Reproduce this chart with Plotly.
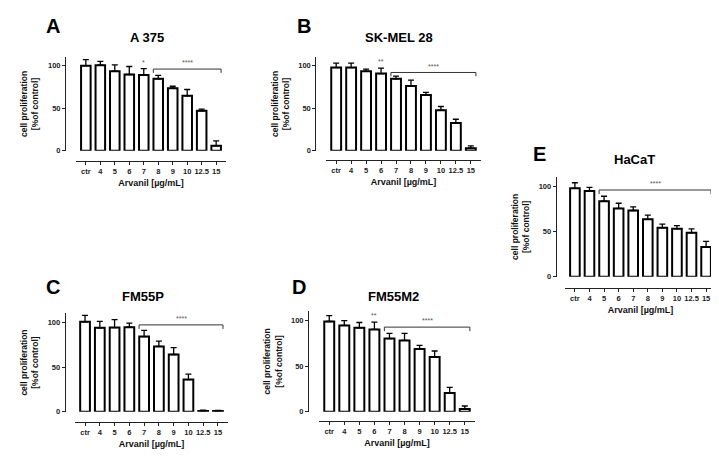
import plotly.graph_objects as go

W, H = 719, 460

doses = ["ctr", "4", "5", "6", "7", "8", "9", "10", "12.5", "15"]

# mean proliferation (% of control) and upper SD per cell line
a375_mean = [100, 100.5, 93.5, 89.6, 89, 84.6, 73.5, 64.6, 47, 5.8]
a375_sd = [7, 4.5, 7.5, 9.4, 7.5, 3.9, 2.3, 7.4, 2, 5.7]

skmel28_mean = [97.7, 97.7, 93.4, 90.7, 84.5, 76, 65.5, 47.7, 32.6, 3]
skmel28_sd = [5.3, 5.3, 2.6, 6.3, 3.1, 7, 3.1, 4.3, 4.4, 2.8]

fm55p_mean = [100.4, 93.8, 94, 94.5, 84, 73, 64, 36, 1, 1]
fm55p_sd = [7.3, 7.2, 9, 4.5, 7, 6, 7.7, 6, 1, 0.5]

fm55m2_mean = [98.6, 94.3, 91.8, 90, 80, 78, 68.6, 60, 20.7, 3]
fm55m2_sd = [6.4, 5.3, 5.7, 8, 5.7, 7.7, 3.9, 6.4, 6.1, 3.4]

hacat_mean = [97.5, 94.5, 83.3, 75.3, 73, 63.3, 54, 53, 48.4, 32.7]
hacat_sd = [6.1, 4, 5.4, 5.7, 4, 4.7, 4, 3.4, 4.3, 6.3]

# significance: bracket (first dose idx, last dose idx, level, label), single marks (idx, label)
a375_bracket = (5, 9, 96, "****")
a375_marks = [(4, "*")]
skmel28_bracket = (4, 9, 92, "****")
skmel28_marks = [(3, "**")]
fm55p_bracket = (4, 9, 97, "****")
fm55p_marks = []
fm55m2_bracket = (4, 9, 92.5, "****")
fm55m2_marks = [(3, "**")]
hacat_bracket = (2, 9, 95.6, "****")
hacat_marks = []

FONT = "Liberation Sans, Arial, sans-serif"


def px(x):
    return x / W


def py(y):
    return 1 - y / H


# panel geometry in pixels
panels = [
    dict(letter="A", title="A 375", mean=a375_mean, sd=a375_sd, br=a375_bracket, marks=a375_marks,
         xd=(68, 218), yx=57, ytop=49.7, ybot=144.3, xy=154.5, lt=(45, 18.5), tt=(138.5, 30)),
    dict(letter="B", title="SK-MEL 28", mean=skmel28_mean, sd=skmel28_sd, br=skmel28_bracket, marks=skmel28_marks,
         xd=(318, 473), yx=307.3, ytop=49.7, ybot=144.3, xy=154, lt=(296, 18), tt=(391, 30)),
    dict(letter="C", title="FM55P", mean=fm55p_mean, sd=fm55p_sd, br=fm55p_bracket, marks=fm55p_marks,
         xd=(67, 220), yx=56.7, ytop=308.6, ybot=408.3, xy=419, lt=(45, 282), tt=(135, 292)),
    dict(letter="D", title="FM55M2", mean=fm55m2_mean, sd=fm55m2_sd, br=fm55m2_bracket, marks=fm55m2_marks,
         xd=(311, 467), yx=300, ytop=306.4, ybot=408.3, xy=417.5, lt=(291, 282), tt=(385, 292)),
    dict(letter="E", title="HaCaT", mean=hacat_mean, sd=hacat_sd, br=hacat_bracket, marks=hacat_marks,
         xd=(557, 708), yx=547.7, ytop=170.8, ybot=271.7, xy=283, lt=(531, 148), tt=(626.7, 153)),
]

fig = go.Figure()
shapes = []
annotations = []
layout = {}

for i, p in enumerate(panels, start=1):
    xa = "x" if i == 1 else "x%d" % i
    ya = "y" if i == 1 else "y%d" % i
    fig.add_trace(go.Bar(
        x=doses, y=p["mean"], xaxis=xa, yaxis=ya, width=0.66,
        marker=dict(color="white", line=dict(color="black", width=2)),
        error_y=dict(type="data", symmetric=False, array=p["sd"], arrayminus=[0] * len(p["sd"]),
                     color="black", thickness=1.3, width=3),
        showlegend=False,
    ))
    layout["xaxis" if i == 1 else "xaxis%d" % i] = dict(
        domain=[px(p["xd"][0]), px(p["xd"][1])], anchor="free", position=py(p["xy"]),
        type="category", range=[-0.68, 9.68], showline=True, linecolor="#222", linewidth=1,
        ticks="outside", ticklen=3, tickwidth=1, tickcolor="#222", showgrid=False,
        tickangle=0,
        tickfont=dict(family=FONT, size=7.5, color="#222", weight="bold"),
        title=dict(text="Arvanil [µg/mL]", standoff=4,
                   font=dict(family=FONT, size=9, color="#111", weight="bold")),
    )
    layout["yaxis" if i == 1 else "yaxis%d" % i] = dict(
        domain=[py(p["ybot"]), py(p["ytop"])], anchor="free", position=px(p["yx"]),
        range=[0, 110], tickvals=[0, 50, 100], showline=True, linecolor="#222", linewidth=1,
        ticks="outside", ticklen=3, tickwidth=1, tickcolor="#222", showgrid=False, zeroline=False,
        tickfont=dict(family=FONT, size=7.5, color="#222", weight="bold"),
        title=dict(text="cell proliferation<br>[%of control]", standoff=6,
                   font=dict(family=FONT, size=8.5, color="#111", weight="bold")),
    )

    # significance bracket
    s, e, lev, lab = p["br"]
    x0, x1 = s - 0.34, e + 0.34
    for seg in [(x0, lev - 4.5, x0, lev), (x0, lev, x1, lev), (x1, lev, x1, lev - 4.5)]:
        shapes.append(dict(type="line", xref=xa, yref=ya, x0=seg[0], y0=seg[1], x1=seg[2], y1=seg[3],
                           line=dict(color="#333", width=1)))
    annotations.append(dict(xref=xa, yref=ya, x=(x0 + x1) / 2, y=lev + 1, text=lab, showarrow=False,
                            yanchor="bottom", font=dict(family=FONT, size=7, color="#555")))
    for idx, lab in p["marks"]:
        annotations.append(dict(xref=xa, yref=ya, x=idx, y=p["mean"][idx] + p["sd"][idx] + 1, text=lab,
                                showarrow=False, yanchor="bottom", font=dict(family=FONT, size=7, color="#555")))

    # panel letter and title
    annotations.append(dict(xref="paper", yref="paper", x=px(p["lt"][0]), y=py(p["lt"][1]), text="<b>%s</b>" % p["letter"],
                            showarrow=False, xanchor="center", yanchor="middle",
                            font=dict(family=FONT, size=20, color="black")))
    annotations.append(dict(xref="paper", yref="paper", x=px(p["tt"][0]), y=py(p["tt"][1]), text="<b>%s</b>" % p["title"],
                            showarrow=False, xanchor="center", yanchor="middle",
                            font=dict(family=FONT, size=13, color="black")))

fig.update_layout(
    width=W, height=H, margin=dict(l=0, r=0, t=0, b=0),
    paper_bgcolor="white", plot_bgcolor="white",
    shapes=shapes, annotations=annotations, **layout,
)

fig.write_html("out.html")
